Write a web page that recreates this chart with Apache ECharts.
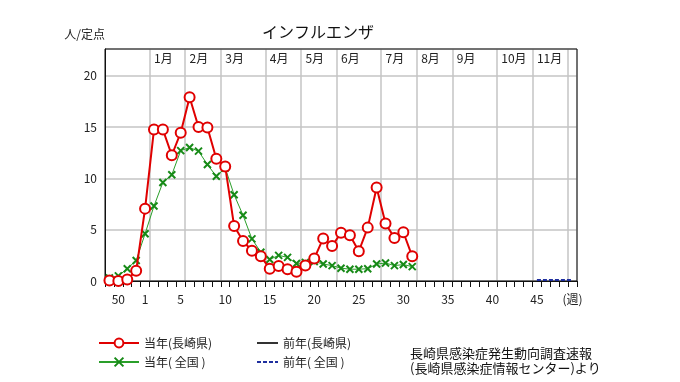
<!DOCTYPE html>
<html><head><meta charset="utf-8">
<script src="https://cdn.jsdelivr.net/npm/echarts@6/dist/echarts.min.js"></script>
<style>html,body{margin:0;padding:0;background:#fff}#c{width:680px;height:382px}</style>
</head><body><div id="c"></div>
<script>
// 53 weekly categories: prev-year weeks 49-52, then weeks 1-49
const weeks = ['49','50','51','52','1','2','3','4','5','6','7','8','9','10','11','12','13','14','15','16','17','18','19','20','21','22','23','24','25','26','27','28','29','30','31','32','33','34','35','36','37','38','39','40','41','42','43','44','45','46','47','48','49'];
// bottom tick labels and the category index each sits on
const tickLabels = ['50','1','5','10','15','20','25','30','35','40','45','(週)'];
const tickLabelIdx = [1,4,8,13,18,23,28,33,38,43,48,52];
// month labels (top) and the category index where each month starts
const monthNames = ['1月','2月','3月','4月','5月','6月','7月','8月','9月','10月','11月'];
const monthStartIdx = [5,9,13,18,22,26,31,35,39,44,48,52];
const yTicks = [0,5,10,15,20];

const nagasakiNow = [0.05,0.0,0.15,1.0,7.05,14.75,14.75,12.25,14.45,17.9,15.0,14.95,11.9,11.15,5.35,3.9,2.95,2.4,1.2,1.45,1.15,0.9,1.5,2.2,4.15,3.4,4.7,4.45,2.9,5.2,9.1,5.6,4.2,4.75,2.4];
const nationNow = [0.3,0.5,1.2,2.0,4.6,7.3,9.6,10.35,12.7,13.0,12.65,11.35,10.2,11.0,8.4,6.4,4.1,2.8,2.1,2.5,2.3,1.7,1.8,1.9,1.65,1.5,1.25,1.15,1.15,1.2,1.65,1.75,1.5,1.6,1.4];
const nagasakiPrev = [];
const nationPrev = [null,null,null,null,null,null,null,null,null,null,null,null,null,null,null,null,null,null,null,null,null,null,null,null,null,null,null,null,null,null,null,null,null,null,null,null,null,null,null,null,null,null,null,null,null,null,null,null,0.1,0.1,0.1,0.1,0.1];

const FONT = '"Noto Sans CJK JP", sans-serif';
const chart = echarts.init(document.getElementById('c'), null, {renderer: 'canvas'});
chart.setOption({
  animation: false,
  backgroundColor: '#fff',
  textStyle: {fontFamily: FONT},
  title: [
    {text: 'インフルエンザ', left: 262, top: 24, padding: 0,
     textStyle: {fontSize: 16, fontWeight: 'normal', color: '#111', fontFamily: FONT}},
    {text: '長崎県感染症発生動向調査速報\n(長崎県感染症情報センター)より', left: 410, top: 346, padding: 0,
     textStyle: {fontSize: 13, lineHeight: 15, fontWeight: 'normal', color: '#111', fontFamily: FONT}}
  ],
  grid: {left: 105, right: 103, top: 49, bottom: 101, show: true, borderColor: '#111', borderWidth: 1, backgroundColor: 'transparent', z: 1},
  legend: [
    {left: 98, top: 337, padding: 0, orient: 'vertical', itemWidth: 40, itemHeight: 11, itemGap: 7,
     textStyle: {fontSize: 12, color: '#222', fontFamily: FONT},
     data: ['当年(長崎県)', '当年( 全国 )']},
    {left: 256, top: 337, padding: 0, orient: 'vertical', itemWidth: 21, itemHeight: 11, itemGap: 7,
     textStyle: {fontSize: 12, color: '#222', fontFamily: FONT},
     data: [{name: '前年(長崎県)', itemStyle: {opacity: 0}}, {name: '前年( 全国 )', itemStyle: {opacity: 0}}]}
  ],
  xAxis: [
    {type: 'category', data: weeks, boundaryGap: true, position: 'bottom',
     axisLine: {show: true, lineStyle: {color: '#111', width: 1}},
     axisTick: {show: true, interval: 0, length: 6, lineStyle: {color: '#111'}},
     axisLabel: {margin: 12, fontSize: 12, color: '#222', fontFamily: FONT,
       interval: (i) => tickLabelIdx.indexOf(i) >= 0,
       formatter: (v, i) => { const k = tickLabelIdx.indexOf(i); return k >= 0 ? tickLabels[k] : ''; }},
     splitLine: {show: false}},
    {type: 'category', data: weeks, boundaryGap: true, position: 'top',
     axisLine: {show: false}, axisTick: {show: false},
     axisLabel: {inside: true, margin: 3, align: 'left', fontSize: 12, color: '#222', fontFamily: FONT,
       interval: (i) => monthStartIdx.indexOf(i) >= 0 && monthStartIdx.indexOf(i) < monthNames.length,
       formatter: (v, i) => { const k = monthStartIdx.indexOf(i); return (k >= 0 && k < monthNames.length) ? monthNames[k] : ''; }},
     splitLine: {show: true, interval: (i) => monthStartIdx.indexOf(i) >= 0,
       lineStyle: {color: '#c4c4c4', width: 1.5}}}
  ],
  yAxis: {type: 'value', min: 0, max: 22.6, interval: 5,
    name: '人/定点', nameLocation: 'end', nameGap: 9,
    nameTextStyle: {align: 'right', fontSize: 12, color: '#222', fontFamily: FONT},
    axisLine: {show: true, lineStyle: {color: '#111'}},
    axisTick: {show: false},
    axisLabel: {margin: 8, fontSize: 12, color: '#222', fontFamily: FONT,
      formatter: (v) => yTicks.indexOf(v) >= 0 ? String(v) : ''},
    splitLine: {show: true, lineStyle: {color: '#c4c4c4', width: 1.5}}},
  series: [
    {name: '前年(長崎県)', type: 'line', data: nagasakiPrev, symbol: 'none',
     lineStyle: {color: '#333', width: 1}, itemStyle: {color: '#333'}, z: 3},
    {name: '前年( 全国 )', type: 'line', data: nationPrev, symbol: 'none', clip: false,
     lineStyle: {color: '#1f2f9f', width: 2, type: [4, 2]}, itemStyle: {color: '#1f2f9f'}, z: 6},
    {name: '当年( 全国 )', type: 'line', data: nationNow, showAllSymbol: true,
     symbol: 'path://M0 0L10 10M10 0L0 10', symbolSize: 7,
     lineStyle: {color: '#2a9f2a', width: 1},
     itemStyle: {color: '#178a17', borderColor: '#178a17', borderWidth: 2}, z: 4},
    {name: '当年(長崎県)', type: 'line', data: nagasakiNow, showAllSymbol: true,
     symbol: 'circle', symbolSize: 10,
     lineStyle: {color: '#e00000', width: 2},
     itemStyle: {color: '#fff', borderColor: '#e00000', borderWidth: 2}, z: 5}
  ]
});
</script>
</body></html>
